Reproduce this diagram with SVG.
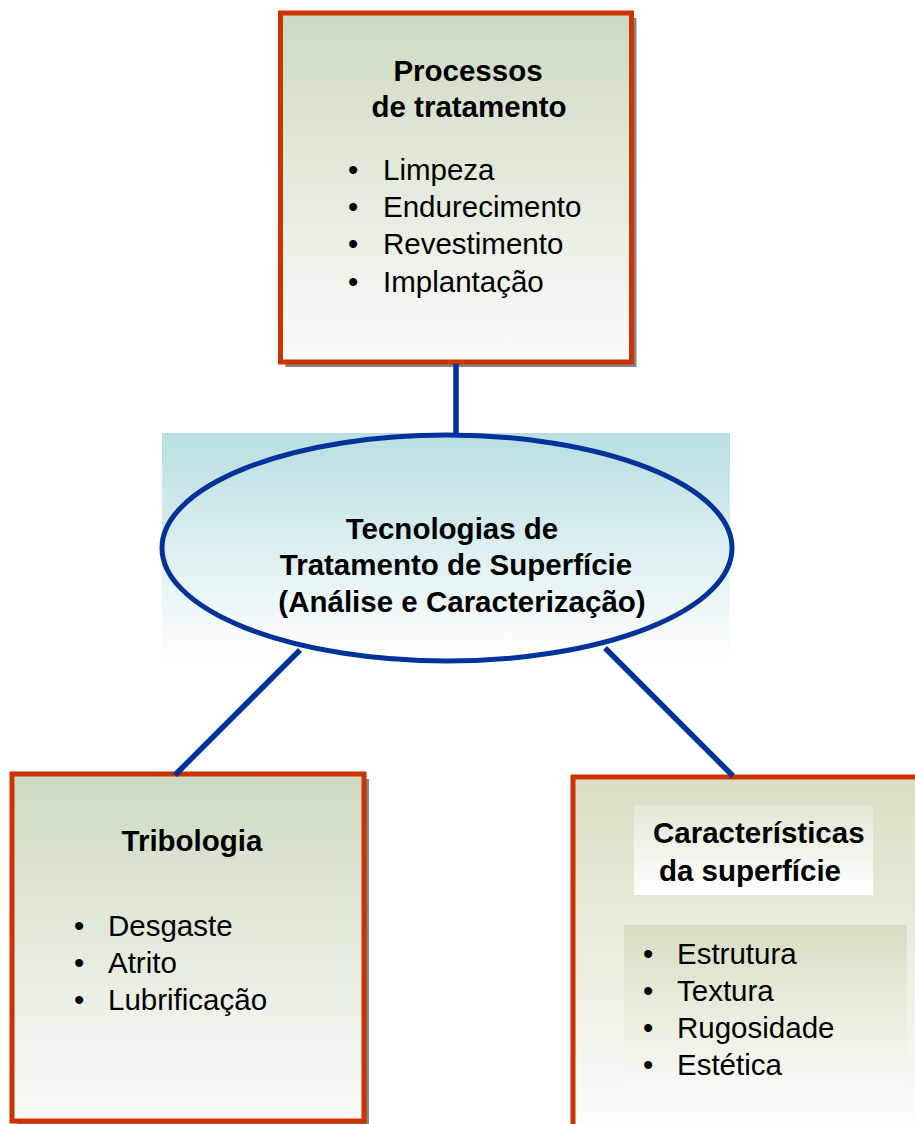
<svg xmlns="http://www.w3.org/2000/svg" width="915" height="1124" viewBox="0 0 915 1124">
  <defs>
    <linearGradient id="gBox" x1="0" y1="0" x2="0" y2="1">
      <stop offset="0" stop-color="#CDDAC1"/>
      <stop offset="1" stop-color="#FBFBF9"/>
    </linearGradient>
    <linearGradient id="gBoxR" x1="0" y1="0" x2="0" y2="1">
      <stop offset="0" stop-color="#D8DEC3"/>
      <stop offset="1" stop-color="#FCFCFA"/>
    </linearGradient>
    <linearGradient id="gTitle" x1="0" y1="0" x2="0" y2="1">
      <stop offset="0" stop-color="#E3E7D4"/>
      <stop offset="1" stop-color="#FFFFFF"/>
    </linearGradient>
    <linearGradient id="gList" x1="0" y1="0" x2="0" y2="1">
      <stop offset="0" stop-color="#D7DDC2"/>
      <stop offset="1" stop-color="#FAFAF6"/>
    </linearGradient>
    <linearGradient id="gTeal" x1="0" y1="0" x2="0" y2="1">
      <stop offset="0" stop-color="#B8DEE1"/>
      <stop offset="1" stop-color="#FFFFFF"/>
    </linearGradient>
  </defs>
  <style>
    .box{stroke:#CC3300;stroke-width:5}
    .shadow{fill:#858585}
    .conn{stroke:#003399;stroke-width:5.5;fill:none}
    .title{font-family:"Liberation Sans",Arial,sans-serif;font-weight:bold;font-size:29.5px;fill:#000}
    .item{font-family:"Liberation Sans",Arial,sans-serif;font-size:29.5px;fill:#000}
  </style>
  <rect x="0" y="0" width="915" height="1124" fill="#FFFFFF"/>

  <g id="node-processos">
    <rect class="shadow" x="285.5" y="18" width="351" height="349"/>
    <rect class="box" x="280.5" y="13" width="351" height="349" fill="url(#gBox)"/>
    <text class="title" x="468" y="81" text-anchor="middle">Processos</text>
    <text class="title" x="469" y="117" text-anchor="middle">de tratamento</text>
    <text class="item" x="348" y="180">•</text><text class="item" x="383" y="180">Limpeza</text>
    <text class="item" x="348" y="217">•</text><text class="item" x="383" y="217">Endurecimento</text>
    <text class="item" x="348" y="254">•</text><text class="item" x="383" y="254">Revestimento</text>
    <text class="item" x="348" y="292">•</text><text class="item" x="383" y="292">Implantação</text>
  </g>

  <g id="node-tecnologias">
    <rect x="162" y="433" width="568" height="228" fill="url(#gTeal)"/>
    <ellipse cx="447" cy="548" rx="285" ry="113" fill="none" stroke="#003399" stroke-width="5"/>
    <text class="title" x="452" y="539" text-anchor="middle">Tecnologias de</text>
    <text class="title" x="456" y="575" text-anchor="middle">Tratamento de Superfície</text>
    <text class="title" x="462" y="612" text-anchor="middle">(Análise e Caracterização)</text>
  </g>

  <g id="node-tribologia">
    <rect class="shadow" x="17" y="779" width="352" height="347"/>
    <rect class="box" x="12" y="774" width="352" height="347" fill="url(#gBox)"/>
    <text class="title" x="192" y="851" text-anchor="middle">Tribologia</text>
    <text class="item" x="74" y="936">•</text><text class="item" x="108" y="936">Desgaste</text>
    <text class="item" x="74" y="973">•</text><text class="item" x="108" y="973">Atrito</text>
    <text class="item" x="74" y="1010">•</text><text class="item" x="108" y="1010">Lubrificação</text>
  </g>

  <g id="node-caracteristicas">
    <rect class="shadow" x="578" y="782" width="360" height="350"/>
    <rect class="box" x="573" y="777" width="360" height="350" fill="url(#gBoxR)"/>
    <rect x="634" y="805" width="239" height="90" fill="url(#gTitle)"/>
    <rect x="624" y="925" width="283" height="165" fill="url(#gList)"/>
    <text class="title" x="653" y="843">Características</text>
    <text class="title" x="659" y="881">da superfície</text>
    <text class="item" x="643" y="964">•</text><text class="item" x="677" y="964">Estrutura</text>
    <text class="item" x="643" y="1001">•</text><text class="item" x="677" y="1001">Textura</text>
    <text class="item" x="643" y="1038">•</text><text class="item" x="677" y="1038">Rugosidade</text>
    <text class="item" x="643" y="1075">•</text><text class="item" x="677" y="1075">Estética</text>
  </g>

  <g id="connectors">
    <line class="conn" x1="456" y1="364" x2="456" y2="436"/>
    <line class="conn" x1="300" y1="650" x2="175" y2="775"/>
    <line class="conn" x1="605" y1="648" x2="733" y2="776"/>
  </g>
</svg>
